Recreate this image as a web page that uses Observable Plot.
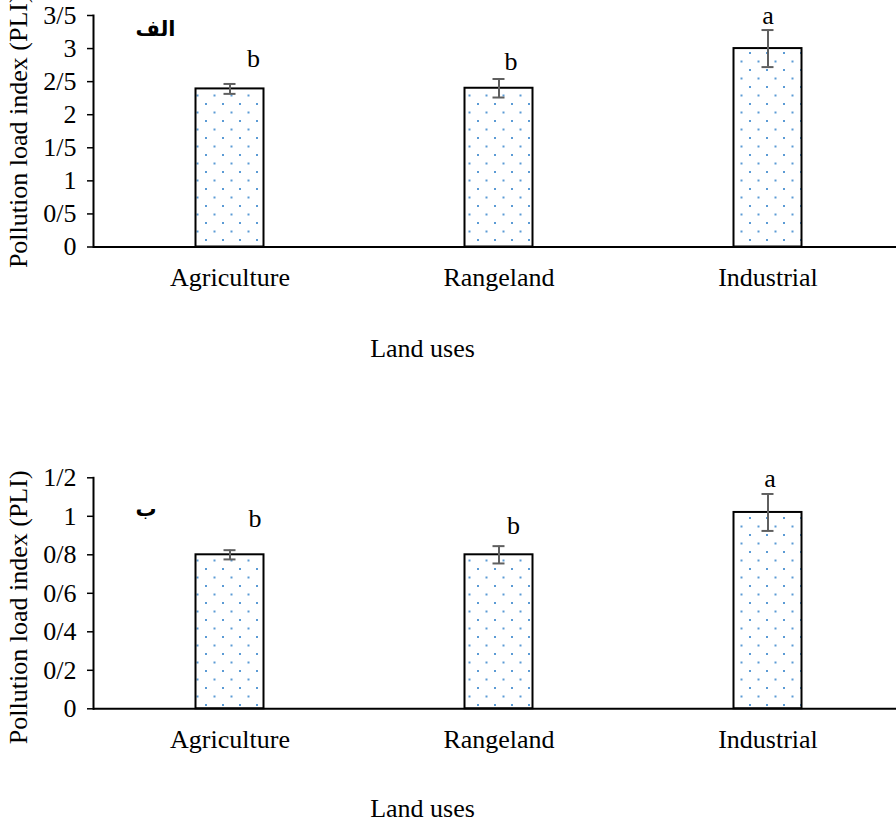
<!DOCTYPE html>
<html>
<head>
<meta charset="utf-8">
<script src="https://cdn.jsdelivr.net/npm/d3@7"></script>
<script src="https://cdn.jsdelivr.net/npm/@observablehq/plot@0.6"></script>
<style>
  body { margin: 0; background: white; }
  #charts svg { display: block; }
</style>
</head>
<body>
<svg width="0" height="0" style="position:absolute">
  <defs>
    <pattern id="dots" patternUnits="userSpaceOnUse" width="17" height="17">
      <rect x="0" y="0" width="17" height="17" fill="white"></rect>
      <rect x="1" y="1" width="2" height="2" fill="#5b9bd5"></rect>
      <rect x="9.5" y="9.5" width="2" height="2" fill="#5b9bd5"></rect>
    </pattern>
  </defs>
</svg>
<div id="charts"></div>
<script>
// ---- data ----
const categories = ["Agriculture", "Rangeland", "Industrial"];

const pliA = [2.39, 2.40, 3.00];
const errA = [0.075, 0.14, 0.28];
const lettersA = ["b", "b", "a"];
const letterYA = [2.844, 2.80, 3.50];
const yTicksA = [0, 0.5, 1, 1.5, 2, 2.5, 3, 3.5];
const yTickLabelsA = ["0", "0/5", "1", "1/5", "2", "2/5", "3", "3/5"];
const panelTitleA = "الف";

const pliB = [0.80, 0.80, 1.02];
const errB = [0.024, 0.045, 0.096];
const lettersB = ["b", "b", "a"];
const letterYB = [0.986, 0.952, 1.198];
const yTicksB = [0, 0.2, 0.4, 0.6, 0.8, 1, 1.2];
const yTickLabelsB = ["0", "0/2", "0/4", "0/6", "0/8", "1", "1/2"];
const panelTitleB = "ب";

const yTitle = "Pollution load index (PLI)";
const xTitle = "Land uses";

// ---- drawing ----
const SERIF = "'Liberation Serif', 'Times New Roman', serif";

function panel(cfg) {
  const rows = categories.map((c, i) => ({cat: c, v: cfg.values[i], e: cfg.errs[i], letter: cfg.letters[i], ly: cfg.letterY[i]}));
  const errColor = "#5f5f5f";
  const letterMarks = rows.map((r, i) =>
    Plot.text([r], {x: "cat", y: "ly", text: "letter", fontSize: 26, fontFamily: SERIF, fill: "black", dx: cfg.letterDx[i]})
  );
  return Plot.plot({
    width: 896,
    height: cfg.height,
    marginLeft: 93,
    marginRight: 0,
    marginTop: cfg.marginTop,
    marginBottom: cfg.marginBottom,
    style: `font-family: ${SERIF}; font-size: 26px; color: black; background: white; overflow: visible;`,
    x: {domain: categories, range: [94.5, 901.5], padding: 0},
    y: {domain: [0, cfg.yMax]},
    marks: [
      Plot.barY(rows, {x: "cat", y: "v", fill: "url(#dots)", stroke: "black", strokeWidth: 2, insetLeft: 100.5, insetRight: 100.5}),
      Plot.ruleX(rows, {x: "cat", y1: d => d.v - d.e, y2: d => d.v + d.e, stroke: errColor, strokeWidth: 2}),
      Plot.tickY(rows, {x: "cat", y: d => d.v + d.e, stroke: errColor, strokeWidth: 2, insetLeft: 128.5, insetRight: 128.5}),
      Plot.tickY(rows, {x: "cat", y: d => d.v - d.e, stroke: errColor, strokeWidth: 2, insetLeft: 128.5, insetRight: 128.5}),
      Plot.ruleY([0], {stroke: "black", strokeWidth: 2}),
      Plot.frame({anchor: "left", stroke: "black", strokeWidth: 2}),
      Plot.axisY({ticks: cfg.yTicks, tickFormat: d => cfg.yLabels[cfg.yTicks.indexOf(d)], tickSize: 6, tickPadding: 11, fontSize: 26, fontFamily: SERIF, label: null, stroke: "black", strokeWidth: 1.5}),
      Plot.axisX({tickSize: 0, tickPadding: 21, fontSize: 26, fontFamily: SERIF, label: null}),
      ...letterMarks,
      Plot.text([yTitle], {text: d => d, frameAnchor: "left", textAnchor: "middle", lineAnchor: "middle", rotate: -90, dx: -75, dy: cfg.yTitleDy, fontSize: 26, fontFamily: SERIF, fill: "black"}),
      Plot.text([xTitle], {text: d => d, frameAnchor: "bottom", textAnchor: "middle", lineAnchor: "middle", dx: -72.5, dy: cfg.xTitleDy, fontSize: 26, fontFamily: SERIF, fill: "black"}),
      Plot.text([cfg.title], {text: d => d, frameAnchor: "top-left", textAnchor: "middle", lineAnchor: "middle", dx: cfg.titleDx, dy: cfg.titleDy, fontSize: 21, fontWeight: "bold", fontFamily: "DejaVu Sans", fill: "black"})
    ]
  });
}

const root = document.getElementById("charts");
root.appendChild(panel({
  values: pliA, errs: errA, letters: lettersA, letterY: letterYA,
  yTicks: yTicksA, yLabels: yTickLabelsA, yMax: 3.5, title: panelTitleA,
  height: 380, marginTop: 15, marginBottom: 133.5,
  letterDx: [23.5, 12, 0], yTitleDy: 0, xTitleDy: 101.5, titleDx: 62, titleDy: 14
}));
root.appendChild(panel({
  values: pliB, errs: errB, letters: lettersB, letterY: letterYB,
  yTicks: yTicksB, yLabels: yTickLabelsB, yMax: 1.2, title: panelTitleB,
  height: 440, marginTop: 97.3, marginBottom: 111.7,
  letterDx: [25, 14.5, 2], yTitleDy: 14, xTitleDy: 99.7, titleDx: 52.5, titleDy: 31
}));
</script>
</body>
</html>
